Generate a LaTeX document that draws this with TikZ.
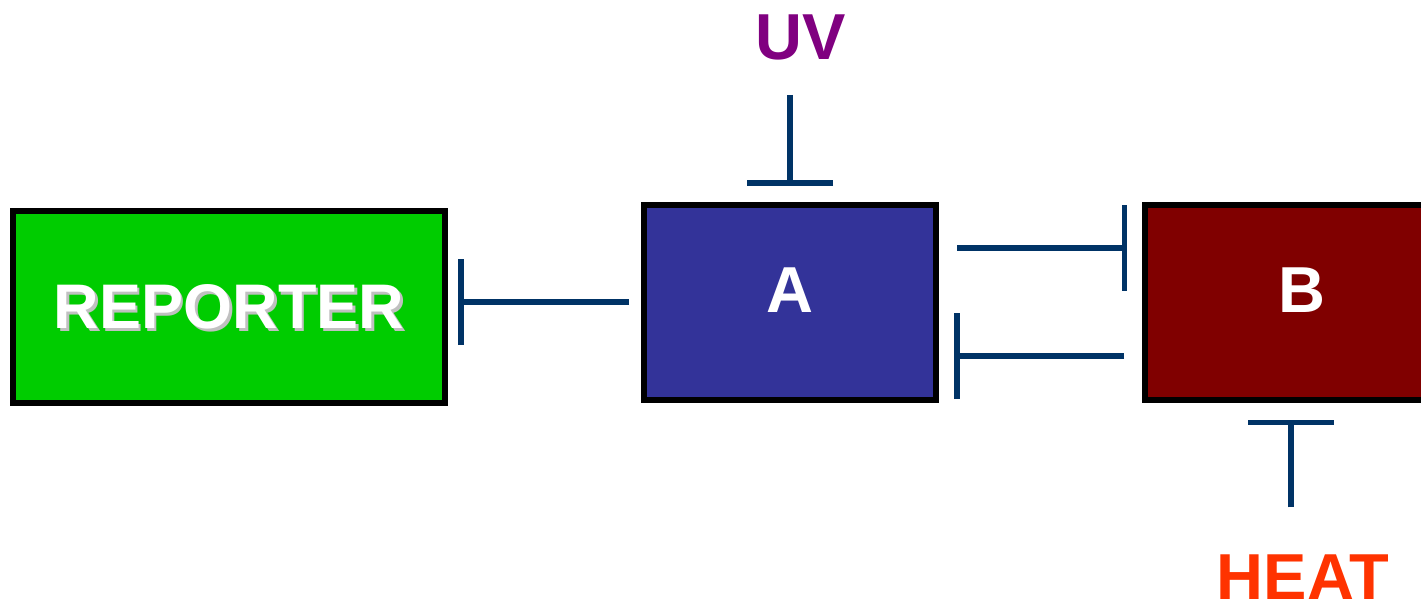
\documentclass[tikz,border=0pt]{standalone}
\usepackage{fontspec}
\setmainfont{Liberation Sans}
\usetikzlibrary{arrows.meta, calc, positioning}
\definecolor{swGreen}{HTML}{00CC00}
\definecolor{swBlue}{HTML}{333399}
\definecolor{swRed}{HTML}{800000}
\definecolor{swPurple}{HTML}{800080}
\definecolor{swOrange}{HTML}{FF3300}
\definecolor{swNavy}{HTML}{003366}
\definecolor{swShadow}{HTML}{C0C0C0}
\newcommand{\shadowed}[1]{\makebox[0pt][l]{\hspace*{2.5pt}\smash{\raisebox{-2.5pt}{\textcolor{swShadow}{#1}}}}#1}
\tikzset{
  bigfont/.style    = {font=\fontsize{65pt}{78pt}\selectfont\bfseries},
  genebox/.style    = {draw=black, line width=6pt, inner sep=0pt, bigfont,
                       text=white, minimum width=292pt, minimum height=195pt},
  signal/.style     = {inner sep=0pt, bigfont},
  inhibit/.style    = {-{Bar[width=86pt]}, swNavy, line width=5.5pt},
}
\begin{document}
\begin{tikzpicture}[x=1pt,y=-1pt]
  \useasboundingbox (0,0) rectangle (1421,603);
  \node[genebox, fill=swGreen, minimum width=432pt, minimum height=192pt,
        font=\fontsize{63pt}{76pt}\selectfont\bfseries] (reporter) at (229,307) {\shadowed{REPORTER}};
  \node[genebox, fill=swBlue, text depth=24pt] (A) at (790,302) {A};
  \node[genebox, fill=swRed, text depth=24pt] (B) at (1291,302) {\hspace*{22pt}B};
  \node[signal, text=swPurple] (uv) at (801,37) {UV};
  \node[signal, text=swOrange] (heat) at (1303,577) {HEAT};
  % inhibition links
  \draw[inhibit, shorten <=12pt, shorten >=10pt] (A.west) -- (A.west -| reporter.east);
  \draw[inhibit, shorten <=18pt, shorten >=15pt] ([yshift=54pt]A.east) -- ([yshift=54pt]B.west);
  \draw[inhibit, shorten <=18pt, shorten >=15pt] ([yshift=-54pt]B.west) -- ([yshift=-54pt]A.east);
  \draw[inhibit, shorten <=35pt, shorten >=16pt] (uv.south -| A.north) -- (A.north);
  \draw[inhibit, shorten <=47pt, shorten >=17pt] (heat.north -| B.south) -- (B.south);
\end{tikzpicture}
\end{document}
